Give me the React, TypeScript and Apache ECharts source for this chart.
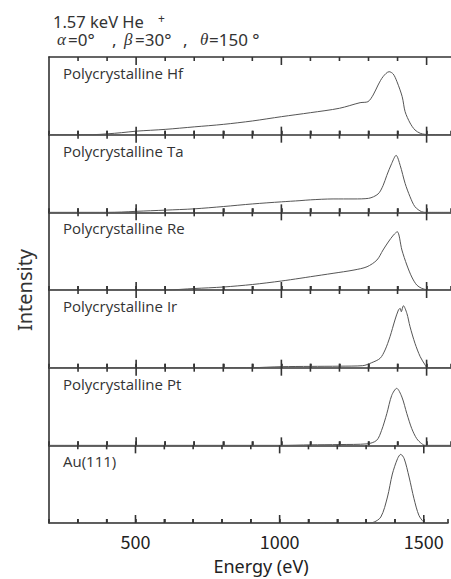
import React, { useEffect, useRef } from "react";
import * as echarts from "echarts";

// ---- data, intensity in arbitrary units ----
const panelNames = [
  "Polycrystalline Hf",
  "Polycrystalline Ta",
  "Polycrystalline Re",
  "Polycrystalline Ir",
  "Polycrystalline Pt",
  "Au(111)",
];

const hfE = [200, 350, 400, 450, 500, 600, 700, 800, 900, 1000, 1100, 1200, 1271, 1298, 1316, 1333, 1350, 1371, 1385, 1398, 1416, 1426, 1443, 1460, 1478, 1495, 1510, 1584];
const hfI = [0, 0, 0.8, 2, 3.5, 5.3, 7.8, 10.3, 13.7, 18, 22, 26.4, 32, 33, 39.7, 49.7, 58, 63, 60.7, 53, 38, 23, 11.7, 4.7, 1.4, 0.3, 0, 0];

const taE = [200, 400, 450, 500, 600, 700, 800, 900, 1000, 1064, 1100, 1178, 1250, 1300, 1333, 1350, 1363, 1380, 1395, 1409, 1426, 1443, 1460, 1483, 1500, 1584];
const taI = [0, 0, 0.3, 1, 2.2, 3.5, 5.8, 8.4, 10.5, 11.7, 12.5, 13.4, 13.4, 14, 18.4, 26.7, 37, 49, 57, 47, 29, 15.6, 5.6, 0.6, 0, 0];

const reE = [200, 600, 700, 800, 900, 1000, 1064, 1100, 1178, 1250, 1295, 1329, 1350, 1368, 1386, 1399, 1415, 1432, 1449, 1466, 1483, 1500, 1510, 1584];
const reI = [0, 0, 1.5, 3, 5.5, 9, 11.7, 13.3, 16.7, 20, 23.3, 30, 40, 48, 55, 58.3, 40, 25, 13, 5, 1.7, 0.3, 0, 0];

const irE = [200, 900, 950, 1000, 1100, 1200, 1280, 1311, 1340, 1357, 1374, 1391, 1403, 1409, 1413, 1420, 1432, 1443, 1460, 1478, 1495, 1502, 1584];
const irI = [0, 0, 0.5, 1, 1.3, 1.5, 2, 5, 9.4, 17.7, 31, 47.7, 57.7, 59.4, 56, 62, 54.4, 41, 24.4, 11, 2.7, 0, 0];

const ptE = [200, 1000, 1100, 1200, 1295, 1328, 1345, 1363, 1380, 1397, 1415, 1432, 1449, 1466, 1483, 1495, 1584];
const ptI = [0, 0, 0.5, 0.8, 1.5, 5, 15, 31.7, 50, 57, 48.3, 31.7, 16.7, 6.7, 1.7, 0, 0];

const auE = [200, 1300, 1323, 1351, 1374, 1391, 1409, 1420, 1432, 1449, 1466, 1483, 1500, 1510, 1584];
const auI = [0, 0, 0.5, 6, 26, 49, 64.4, 68.7, 64.4, 46, 24.4, 7.7, 1, 0, 0];

const panelE = [hfE, taE, reE, irE, ptE, auE];
const panelI = [hfI, taI, reI, irI, ptI, auI];

const majorTicks = [500, 1000, 1500];
const minorTicks = [300, 400, 600, 700, 800, 900, 1100, 1200, 1300, 1400];
const minorInterval = 100;
const xMin = 200;
const xMax = 1584;
const yMax = 77.7;

const W = 451;
const H = 579;
const PLOT_LEFT = 49;
const PLOT_TOP = 57;
const PANEL_H = 77.67;

const AXIS_COLOR = "#333";
const LINE_COLOR = "#555";
const TEXT_COLOR = "#333";
const MINOR_LEN = 4;
const MAJOR_LEN = 8;

export default function App() {
  const ref = useRef<HTMLDivElement>(null);

  useEffect(() => {
    if (!ref.current) return;
    const chart = echarts.init(ref.current, null, { renderer: "svg" });

    const n = panelNames.length;
    const grids: any[] = [];
    const xAxes: any[] = [];
    const yAxes: any[] = [];
    const series: any[] = [];
    const titles: any[] = [];

    // tick marks as small rectangles placed through the axis scale
    const tickMarks = (idx: number, values: number[], len: number, atTop: boolean) => ({
      type: "scatter",
      xAxisIndex: idx,
      yAxisIndex: idx,
      silent: true,
      clip: false,
      z: 5,
      symbol: "rect",
      symbolSize: [1.6, len],
      symbolOffset: [0, atTop ? len / 2 : -len / 2],
      itemStyle: { color: AXIS_COLOR, opacity: 1 },
      data: values.map((v) => [v, atTop ? yMax : 0]),
    });

    for (let i = 0; i < n; i++) {
      const top = PLOT_TOP + i * PANEL_H;
      grids.push({ left: PLOT_LEFT, right: 0, top, height: PANEL_H });
      const last = i === n - 1;

      xAxes.push({
        type: "value",
        gridIndex: i,
        min: xMin,
        max: xMax,
        interval: minorInterval,
        axisLine: { show: true, onZero: false, lineStyle: { color: AXIS_COLOR, width: 1.6 } },
        axisTick: { show: true, inside: true, length: MINOR_LEN, lineStyle: { color: AXIS_COLOR, width: 1.6 } },
        axisLabel: last
          ? {
              show: true,
              fontSize: 18,
              color: "#222",
              fontFamily: "'Noto Sans CJK JP', 'Noto Sans', sans-serif",
              margin: 9,
              formatter: (v: number) => (majorTicks.indexOf(v) >= 0 ? String(v) : ""),
            }
          : { show: false },
        splitLine: { show: false },
      });

      yAxes.push({
        type: "value",
        gridIndex: i,
        min: 0,
        max: yMax,
        axisLine: { show: true, onZero: false, lineStyle: { color: AXIS_COLOR, width: 1.6 } },
        axisTick: { show: false },
        axisLabel: { show: false },
        splitLine: { show: false },
      });

      series.push({
        type: "line",
        xAxisIndex: i,
        yAxisIndex: i,
        data: panelE[i].map((e, k) => [e, panelI[i][k]]),
        showSymbol: false,
        smooth: 0.3,
        lineStyle: { color: LINE_COLOR, width: 1 },
      });
      series.push(tickMarks(i, minorTicks, MINOR_LEN, false));
      series.push(tickMarks(i, majorTicks, MAJOR_LEN, false));
      series.push(tickMarks(i, minorTicks, MINOR_LEN, true));
      series.push(tickMarks(i, majorTicks, MAJOR_LEN, true));

      titles.push({
        text: panelNames[i],
        left: 63,
        top: top + 8.5,
        padding: 0,
        textStyle: {
          fontFamily: "'Open Sans', sans-serif",
          fontSize: 15,
          fontWeight: "normal",
          color: TEXT_COLOR,
          lineHeight: 15,
        },
      });
    }

    // top border line of the first panel
    xAxes.push({
      type: "value",
      gridIndex: 0,
      position: "top",
      min: xMin,
      max: xMax,
      axisLine: { show: true, onZero: false, lineStyle: { color: AXIS_COLOR, width: 1.6 } },
      axisTick: { show: false },
      axisLabel: { show: false },
      splitLine: { show: false },
    });

    // full-height helper grid carrying the shared "Intensity" axis name
    const helper = grids.length;
    grids.push({ left: PLOT_LEFT, right: 0, top: PLOT_TOP, height: PANEL_H * n });
    xAxes.push({ type: "value", gridIndex: helper, show: false, min: xMin, max: xMax });
    yAxes.push({
      type: "value",
      gridIndex: helper,
      min: 0,
      max: 1,
      name: "Intensity",
      nameLocation: "middle",
      nameGap: 15,
      nameTextStyle: { fontFamily: "'Noto Sans', sans-serif", fontSize: 20, color: TEXT_COLOR },
      axisLine: { show: false },
      axisTick: { show: false },
      axisLabel: { show: false },
      splitLine: { show: false },
    });

    const greekStyle = { fontFamily: "'Liberation Serif', serif", fontStyle: "italic", fontWeight: "normal", fontSize: 17, color: TEXT_COLOR, lineHeight: 18 };
    const numStyle = { fontFamily: "'Noto Sans', sans-serif", fontWeight: "normal", fontSize: 17, color: TEXT_COLOR, lineHeight: 18 };

    titles.push({
      text: "{m|1.57 keV He}{s|+}",
      left: 53,
      top: 12,
      padding: 0,
      textStyle: {
        fontWeight: "normal",
        rich: {
          m: { fontFamily: "'Noto Sans', sans-serif", fontWeight: "normal", fontSize: 16.5, color: TEXT_COLOR, width: 105, lineHeight: 18 },
          s: { fontFamily: "'Noto Sans', sans-serif", fontWeight: "normal", fontSize: 12, color: TEXT_COLOR, verticalAlign: "top", lineHeight: 12 },
        },
      },
    });

    titles.push({
      text: "{g|α}{n1|=0°}{c1|,}{g|β}{n2|=30°}{c2|,}{t|θ}{n|=150 °}",
      left: 57,
      top: 30,
      padding: 0,
      textStyle: {
        fontWeight: "normal",
        rich: {
          g: { ...greekStyle, width: 11 },
          t: { ...greekStyle, width: 9 },
          n1: { ...numStyle, width: 44 },
          n2: { ...numStyle, width: 48 },
          n: { ...numStyle },
          c1: { ...numStyle, width: 12 },
          c2: { ...numStyle, width: 17 },
        },
      },
    });

    titles.push({
      text: "Energy (eV)",
      left: 261,
      top: 556,
      textAlign: "center",
      padding: 0,
      textStyle: {
        fontFamily: "'Noto Sans', sans-serif",
        fontSize: 18,
        fontWeight: "normal",
        color: "#222",
        lineHeight: 20,
      },
    });

    chart.setOption({
      animation: false,
      title: titles,
      grid: grids,
      xAxis: xAxes,
      yAxis: yAxes,
      series,
    });

    return () => chart.dispose();
  }, []);

  return (
    <div
      ref={ref}
      style={{ position: "fixed", left: 0, top: 0, width: W, height: H, background: "#fff" }}
    />
  );
}
